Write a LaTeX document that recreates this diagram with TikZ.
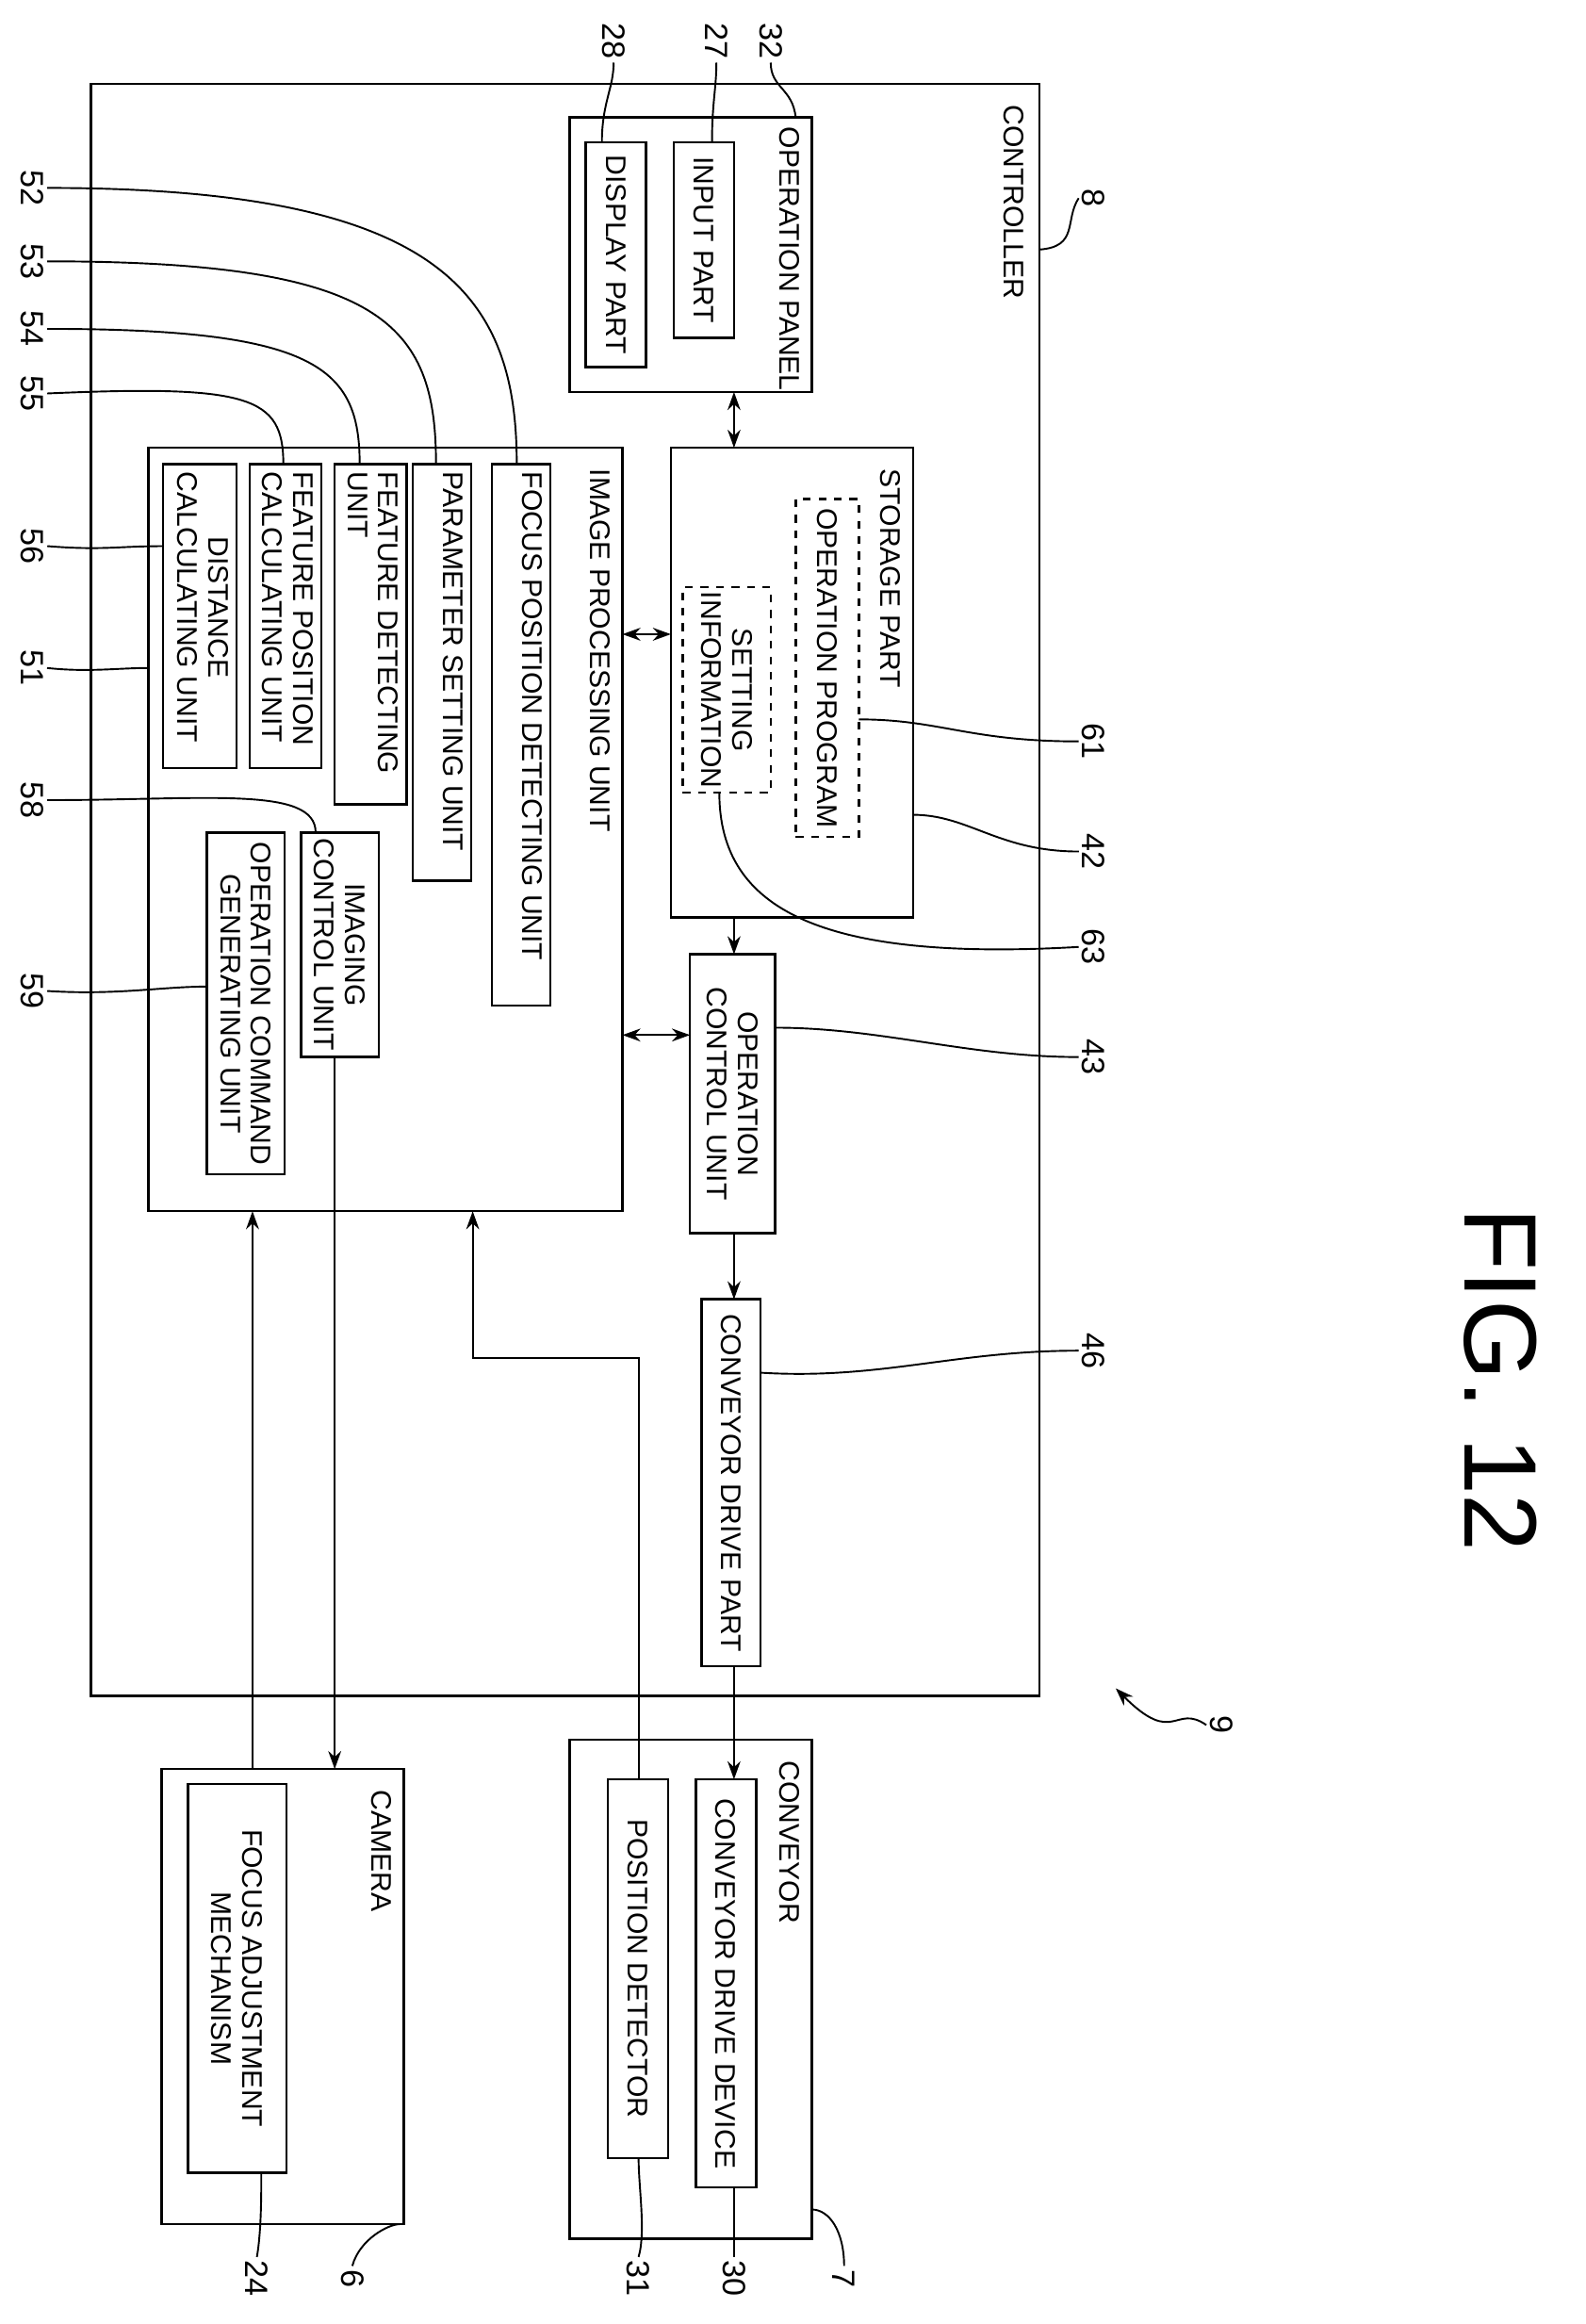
\documentclass[tikz,border=0pt]{standalone}
\usepackage{fontspec}
\setmainfont{Liberation Sans}
\usetikzlibrary{calc,arrows.meta}
\newcommand{\lblf}{\fontsize{11}{12}\selectfont}
\newcommand{\numf}{\fontsize{12.5}{14}\selectfont}
\newcommand{\mybox}[6]{\node[bx,#6,anchor=north west,minimum width={(#4-#2)*0.02cm},minimum height={(#5-#3)*0.02cm}] (#1) at (#2,#3) {};}
\begin{document}
\begin{tikzpicture}[x=0.02cm,y=-0.02cm,line width=0.8pt,
 bx/.style={draw,inner sep=0pt,outer sep=0pt,line width=0.9pt},
 lab/.style={rotate=-90,font=\lblf,inner sep=1pt,align=center},
 num/.style={rotate=-90,font=\numf,inner sep=1pt},
 ar/.style={-{Stealth[length=7pt,width=5pt]}},
 dar/.style={{Stealth[length=7pt,width=5pt]}-{Stealth[length=7pt,width=5pt]}},
 ld/.style={line width=0.7pt}]
\useasboundingbox (0,0) rectangle (1080,1583);
\mybox{ctrl}{62}{57}{708}{1155}{}
\mybox{opanel}{388}{80}{553}{267}{}
\mybox{input}{459}{97}{500}{230}{}
\mybox{display}{399}{97}{440}{250}{}
\mybox{storage}{457}{305}{622}{625}{}
\mybox{opprog}{542}{340}{585}{570}{dashed}
\mybox{setinfo}{465}{400}{525}{540}{dashed}
\mybox{ipu}{101}{305}{424}{825}{}
\mybox{fpd}{335}{316}{375}{685}{}
\mybox{psu}{281}{316}{321}{600}{}
\mybox{fdu}{228}{316}{277}{548}{}
\mybox{fpc}{170}{316}{219}{523}{}
\mybox{dcu}{111}{316}{161}{523}{}
\mybox{icu}{205}{567}{258}{720}{}
\mybox{ocg}{141}{567}{194}{800}{}
\mybox{ocu}{470}{650}{528}{840}{}
\mybox{cdp}{478}{885}{518}{1135}{}
\mybox{conv}{388}{1185}{553}{1525}{}
\mybox{cdd}{474}{1212}{515}{1490}{}
\mybox{pdet}{414}{1212}{455}{1470}{}
\mybox{cam}{110}{1205}{275}{1515}{}
\mybox{fam}{128}{1215}{195}{1480}{}
% corner labels
\node[lab,anchor=north west] (tctrl) at ($(ctrl.north east)+(-8,12)$) {CONTROLLER};
\node[lab,anchor=north west] (topan) at ($(opanel.north east)+(-6,4)$) {OPERATION PANEL};
\node[lab,anchor=north west] (tsto) at ($(storage.north east)+(-6,12)$) {STORAGE PART};
\node[lab,anchor=north west] (tipu) at ($(ipu.north east)+(-6,12)$) {IMAGE PROCESSING UNIT};
\node[lab,anchor=north west] (tconv) at ($(conv.north east)+(-6,12)$) {CONVEYOR};
\node[lab,anchor=north west] (tcam) at ($(cam.north east)+(-6,12)$) {CAMERA};
% inner labels
\node[lab] at (input.center) {INPUT PART};
\node[lab] at (display.center) {DISPLAY PART};
\node[lab] at (opprog.center) {OPERATION PROGRAM};
\node[lab] at (setinfo.center) {SETTING\\INFORMATION};
\node[lab,anchor=north west] at ($(fpd.north east)+(-3,3)$) {FOCUS POSITION DETECTING UNIT};
\node[lab,anchor=north west] at ($(psu.north east)+(-3,3)$) {PARAMETER SETTING UNIT};
\node[lab,anchor=north west,align=left] at ($(fdu.north east)+(-3,3)$) {FEATURE DETECTING\\UNIT};
\node[lab,anchor=north west,align=left] at ($(fpc.north east)+(-3,3)$) {FEATURE POSITION\\CALCULATING UNIT};
\node[lab,anchor=north west] at ($(dcu.north east)+(-3,3)$) {DISTANCE\\CALCULATING UNIT};
\node[lab] at (icu.center) {IMAGING\\CONTROL UNIT};
\node[lab] at (ocg.center) {OPERATION COMMAND\\GENERATING UNIT};
\node[lab] at (ocu.center) {OPERATION\\CONTROL UNIT};
\node[lab] at (cdp.center) {CONVEYOR DRIVE PART};
\node[lab] at (cdd.center) {CONVEYOR DRIVE DEVICE};
\node[lab] at (pdet.center) {POSITION DETECTOR};
\node[lab] at (fam.center) {FOCUS ADJUSTMENT\\MECHANISM};
% connectors
\draw[dar] (opanel.south -| 500,0) -- (storage.north -| 500,0);
\draw[ar] (storage.south -| 500,0) -- (ocu.north -| 500,0);
\draw[dar] (ipu.east |- 0,432) -- (storage.west |- 0,432);
\draw[dar] (ipu.east |- 0,705) -- (ocu.west |- 0,705);
\draw[ar] (ocu.south -| 500,0) -- (cdp.north -| 500,0);
\draw[ar] (cdp.south -| 500,0) -- (cdd.north -| 500,0);
\draw[ar] (pdet.north -| 435,0) -- (435,925) -- (322,925) -- (ipu.south -| 322,0);
\draw[ar] (icu.south -| 228,0) -- (cam.north -| 228,0);
\draw[ar] (cam.north -| 172,0) -- (ipu.south -| 172,0);
% numerals
\node[num] (n8) at (745,135) {8};
\node[num] (n32) at (525,28) {32};
\node[num] (n27) at (488,28) {27};
\node[num] (n28) at (418,28) {28};
\foreach \n/\y in {52/128,53/178,54/224,55/268,56/372,51/455,58/545,59/675} \node[num] (n\n) at (22,\y) {\n};
\foreach \n/\y in {61/505,42/580,63/645,43/720,46/920} \node[num] (n\n) at (745,\y) {\n};
\foreach \n/\x in {7/575,30/500,31/435,6/240,24/175} \node[num] (n\n) at (\x,1552) {\n};
\node[num] (n9) at (832,1175) {9};
\node[rotate=-90,font=\fontsize{40}{44}\selectfont] (fig) at (1022,940) {FIG. 12};
% leaders
\draw[ld] (n8.south) .. controls (725,150) and (735,168) .. (ctrl.east |- 0,170);
\draw[ld] (n32.east) .. controls (525,60) and (540,60) .. (opanel.north -| 542,0);
\draw[ld] (n27.east) .. controls (488,60) and (485,70) .. (input.north -| 485,0);
\draw[ld] (n28.east) .. controls (418,60) and (410,70) .. (display.north -| 410,0);
\draw[ld] (n52.north) .. controls (300,128) and (352,200) .. (fpd.north -| 352,0);
\draw[ld] (n53.north) .. controls (260,178) and (297,220) .. (psu.north -| 297,0);
\draw[ld] (n54.north) .. controls (215,224) and (245,250) .. (fdu.north -| 245,0);
\draw[ld] (n55.north) .. controls (170,262) and (193,270) .. (fpc.north -| 193,0);
\draw[ld] (n56.north) .. controls (70,375) and (80,372) .. (dcu.west |- 0,372);
\draw[ld] (n51.north) .. controls (60,458) and (80,455) .. (ipu.west |- 0,455);
\draw[ld] (n58.north) .. controls (140,545) and (215,535) .. (icu.north -| 215,0);
\draw[ld] (n59.north) .. controls (80,678) and (110,672) .. (ocg.west |- 0,672);
\draw[ld] (n61.south) .. controls (660,505) and (640,490) .. (opprog.east |- 0,490);
\draw[ld] (n42.south) .. controls (680,580) and (660,555) .. (storage.east |- 0,555);
\draw[ld] (n63.south) .. controls (560,655) and (490,620) .. (setinfo.south -| 490,0);
\draw[ld] (n43.south) .. controls (660,720) and (600,700) .. (ocu.east |- 0,700);
\draw[ld] (n46.south) .. controls (650,920) and (600,940) .. (cdp.east |- 0,935);
\draw[ld,ar] (n9.south) .. controls (800,1160) and (800,1190) .. (760,1150);
\draw[ld] (n7.west) .. controls (575,1520) and (565,1505) .. (conv.east |- 0,1505);
\draw[ld] (n30.west) .. controls (500,1520) and (500,1500) .. (cdd.south -| 500,0);
\draw[ld] (n31.west) .. controls (440,1520) and (435,1490) .. (pdet.south -| 435,0);
\draw[ld] (n6.west) .. controls (245,1525) and (265,1515) .. (cam.south -| 272,0);
\draw[ld] (n24.west) .. controls (178,1520) and (178,1495) .. (fam.south -| 178,0);
\end{tikzpicture}
\end{document}
